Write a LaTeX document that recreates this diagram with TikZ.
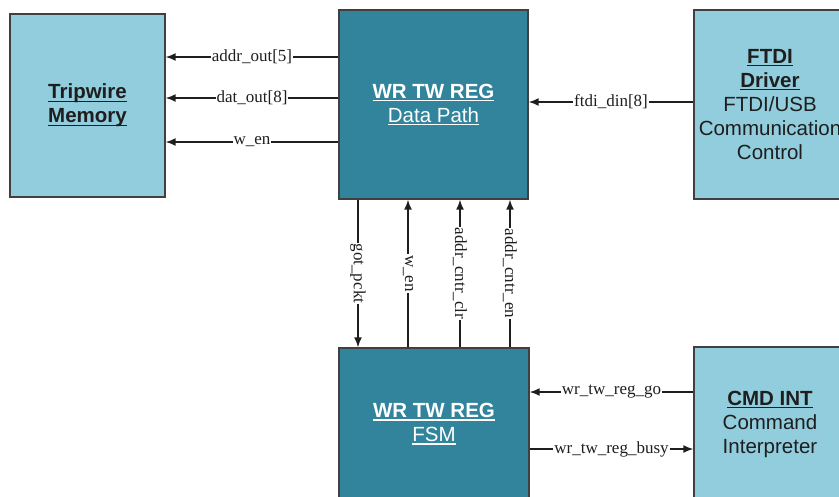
\documentclass[tikz,border=0pt]{standalone}
\usepackage{fontspec}
\setmainfont{Liberation Sans}
\newfontfamily\lblfont{Liberation Serif}
\usetikzlibrary{arrows.meta}
\definecolor{lightbox}{RGB}{146,205,221}
\definecolor{darkbox}{RGB}{49,132,155}
\definecolor{edgegray}{RGB}{64,64,64}
\definecolor{ink}{RGB}{30,30,30}
\newlength\ulwidth
\newcommand\ulx[1]{\settowidth\ulwidth{#1}\rlap{\rule[-3pt]{\ulwidth}{1.3pt}}#1}
\tikzset{
  blockbase/.style={draw=edgegray, line width=1.4pt, align=center, inner sep=0pt,
    font=\fontsize{20.5}{24}\selectfont},
  lightblk/.style={blockbase, fill=lightbox, text=ink},
  darkblk/.style={blockbase, fill=darkbox, text=white},
  arr/.style={draw=ink, line width=1.5pt, -{Latex[length=10pt,width=8pt]}},
  lab/.style={fill=white, inner sep=1pt, text=ink, font=\lblfont\fontsize{17}{20}\selectfont},
}
\begin{document}
\begin{tikzpicture}[x=1pt,y=-1pt]
\useasboundingbox (0,0) rectangle (839,496);
\clip (0,0) rectangle (839,496);
\node[lightblk, minimum width=155pt, minimum height=183pt] (tm) at (87.5,105.5)
  {\textbf{\ulx{Tripwire}}\\\textbf{\ulx{Memory}}};
\node[darkblk, minimum width=189pt, minimum height=189pt] (dp) at (433.5,104.5)
  {\textbf{\ulx{WR TW REG}}\\\ulx{Data Path}};
\node[lightblk, minimum width=152pt, minimum height=189pt] (ftdi) at (770,104.5)
  {\textbf{\ulx{FTDI}}\\\textbf{\ulx{Driver}}\\FTDI/USB\\Communication\\Control};
\node[darkblk, minimum width=190pt, minimum height=152pt] (fsm) at (434,424)
  {\textbf{\ulx{WR TW REG}}\\\ulx{FSM}};
\node[lightblk, minimum width=152pt, minimum height=154pt] (cmd) at (770,424)
  {\textbf{\ulx{CMD INT}}\\Command\\Interpreter};

\draw[arr] (dp.west |- 0,57) -- node[lab]{addr\_out[5]} (tm.east |- 0,57);
\draw[arr] (dp.west |- 0,98) -- node[lab]{dat\_out[8]} (tm.east |- 0,98);
\draw[arr] (dp.west |- 0,142) -- node[lab]{w\_en} (tm.east |- 0,142);
\draw[arr] (ftdi.west |- 0,102) -- node[lab]{ftdi\_din[8]} (dp.east |- 0,102);

\draw[arr] (dp.south -| 358,0) -- node[lab, rotate=-90]{got\_pckt} (fsm.north -| 358,0);
\draw[arr] (fsm.north -| 408,0) -- node[lab, rotate=-90]{w\_en} (dp.south -| 408,0);
\draw[arr] (fsm.north -| 460,0) -- node[lab, rotate=-90]{addr\_cntr\_clr} (dp.south -| 460,0);
\draw[arr] (fsm.north -| 510,0) -- node[lab, rotate=-90]{addr\_cntr\_en} (dp.south -| 510,0);

\draw[arr] (cmd.west |- 0,392) -- node[lab]{wr\_tw\_reg\_go} (fsm.east |- 0,392);
\draw[arr] (fsm.east |- 0,449) -- node[lab]{wr\_tw\_reg\_busy} (cmd.west |- 0,449);
\end{tikzpicture}
\end{document}
